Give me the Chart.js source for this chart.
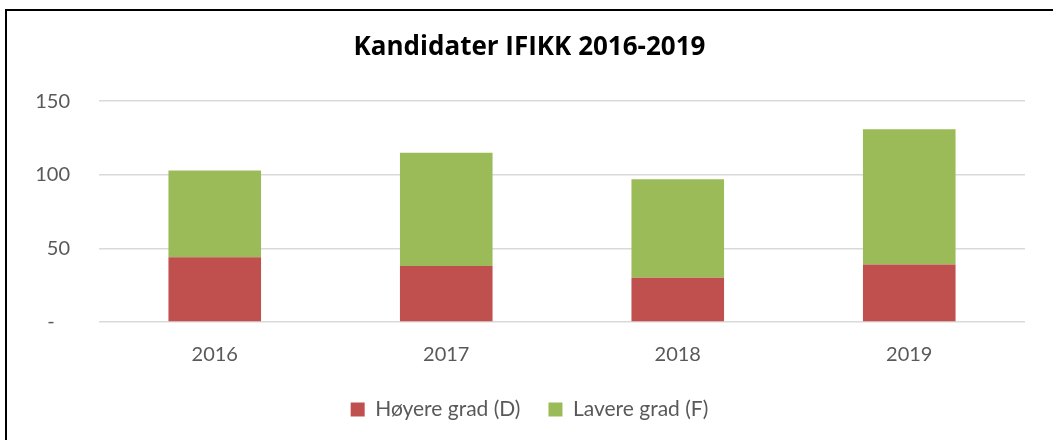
<!DOCTYPE html>
<html>
<head>
<meta charset="utf-8">
<script src="https://cdn.jsdelivr.net/npm/chart.js@4/dist/chart.umd.min.js"></script>
<style>
    html, body { margin: 0; padding: 0; background: #fff; }
    #wrap { position: relative; width: 1053px; height: 440px; overflow: hidden; }
    #frame { position: absolute; left: 5px; top: 9px; width: 1100px; height: 500px;
             border-top: 2px solid #000; border-left: 2px solid #000; pointer-events: none; }
    canvas { position: absolute; left: 0; top: 0; }
</style>
</head>
<body>
<div id="wrap">
    <canvas id="chart" width="1053" height="440"></canvas>
    <div id="frame"></div>
</div>
<script>
const years = ['2016', '2017', '2018', '2019'];
const hoyereGrad = [44, 38, 30, 39];
const lavereGrad = [59, 77, 67, 92];
const yTicks = [0, 50, 100, 150];

const FONT = 'Lato';

const ctx = document.getElementById('chart').getContext('2d');
new Chart(ctx, {
    type: 'bar',
    data: {
        labels: years,
        datasets: [
            {
                label: 'Høyere grad (D)',
                data: hoyereGrad,
                backgroundColor: '#C0504D',
                borderWidth: 0,
                categoryPercentage: 1,
                barPercentage: 0.4,
            },
            {
                label: 'Lavere grad (F)',
                data: lavereGrad,
                backgroundColor: '#9BBB59',
                borderWidth: 0,
                categoryPercentage: 1,
                barPercentage: 0.4,
            }
        ]
    },
    options: {
        responsive: false,
        animation: false,
        // left padding nudges the centred title and legend to the right
        layout: { padding: { left: 34, right: 28, top: 0, bottom: 10 } },
        plugins: {
            title: {
                display: true,
                text: 'Kandidater IFIKK 2016-2019',
                color: '#000',
                font: { family: 'Open Sans', size: 26, weight: 'bold', lineHeight: 1.2 },
                padding: { top: 32, bottom: 38 }
            },
            legend: {
                position: 'bottom',
                labels: {
                    color: '#595959',
                    font: { family: FONT, size: 21 },
                    boxWidth: 14,
                    boxHeight: 14,
                    padding: 28
                }
            },
            tooltip: { enabled: false }
        },
        scales: {
            x: {
                stacked: true,
                grid: { display: false },
                border: { display: false },
                ticks: { color: '#595959', font: { family: FONT, size: 20 }, padding: 13 },
                afterFit: scale => { scale.height = 49; }
            },
            y: {
                stacked: true,
                min: 0,
                max: 150,
                afterBuildTicks: scale => { scale.ticks = yTicks.map(v => ({ value: v })); },
                grid: { color: '#D9D9D9', lineWidth: 1.5, drawTicks: false },
                border: { display: false },
                ticks: {
                    color: '#595959',
                    font: { family: FONT, size: 20 },
                    padding: 29,
                    callback: v => v === 0 ? '-   ' : v
                },
                afterFit: scale => { scale.width = 65; }
            }
        }
    }
});
</script>
</body>
</html>
